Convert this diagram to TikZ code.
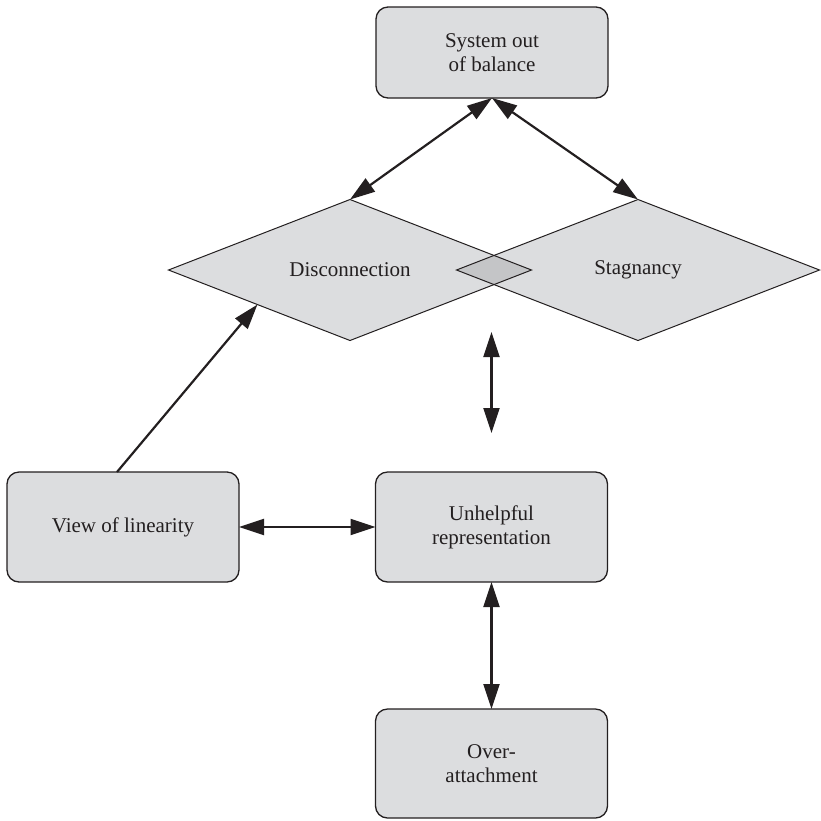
\documentclass[tikz,border=0pt]{standalone}
\usepackage{fontspec}
\setmainfont{Liberation Serif}
\usetikzlibrary{shapes.geometric,arrows.meta,calc}
\pgfdeclarelayer{background}
\pgfsetlayers{background,main}
\definecolor{panel}{HTML}{DCDDDF}
\definecolor{overlap}{HTML}{C4C5C7}
\definecolor{ink}{HTML}{231F20}
\begin{document}
\begin{tikzpicture}[x=1pt,y=-1pt,
  >={Triangle[length=25pt,width=16pt]},
  label text/.style={font=\fontsize{21}{24}\selectfont, text=ink, align=center},
  box/.style={label text, draw=ink, line width=1.3pt, fill=panel,
    rounded corners=12pt, minimum width=232pt, minimum height=110pt,
    inner sep=0pt, outer sep=0pt},
  rhomb/.style={label text, diamond, draw=ink, line width=1pt, aspect=2.575,
    minimum width=363pt, minimum height=141pt, inner sep=0pt, outer sep=0pt},
  link/.style={draw=ink, line width=2.2pt}
]
\useasboundingbox (0,0) rectangle (821,820);

% boxes
\node[box, minimum height=91pt] (sys) at (492,52.5) {System out\\of balance};
\node[box] (view) at (123,527) {View of linearity};
\node[box] (unh) at (491.5,527) {Unhelpful\\representation};
\node[box, minimum height=109pt] (over) at (491.5,763.5) {Over-\\attachment};

% overlapping diamonds
\node[rhomb] (dis) at (350,270) {Disconnection};
\node[rhomb] (stag) at (638,270) {Stagnancy};
\begin{pgfonlayer}{background}
  \fill[panel] (dis.north) -- (dis.east) -- (dis.south) -- (dis.west) -- cycle;
  \fill[panel] (stag.north) -- (stag.east) -- (stag.south) -- (stag.west) -- cycle;
  \fill[overlap] (stag.west)
    -- (intersection of dis.north--dis.east and stag.west--stag.north)
    -- (dis.east)
    -- (intersection of dis.south--dis.east and stag.west--stag.south)
    -- cycle;
\end{pgfonlayer}

% free ends of the vertical link below the diamonds
\coordinate (midtop) at (491.5,332);
\coordinate (midbot) at (491.5,433);
\coordinate (viewfoot) at ($(view.north)+(-6,0)$);
\coordinate (disedge) at ($(dis.west)!0.49!(dis.south)$);

% connectors
\draw[link, <->] (sys.south) -- (dis.north);
\draw[link, <->] (sys.south) -- (stag.north);
\draw[link, <->] (midtop) -- (midbot);
\draw[link, <->] (view.east) -- (unh.west);
\draw[link, ->] (viewfoot) -- (disedge);
\draw[link, <->] (unh.south) -- (over.north);
\end{tikzpicture}
\end{document}
